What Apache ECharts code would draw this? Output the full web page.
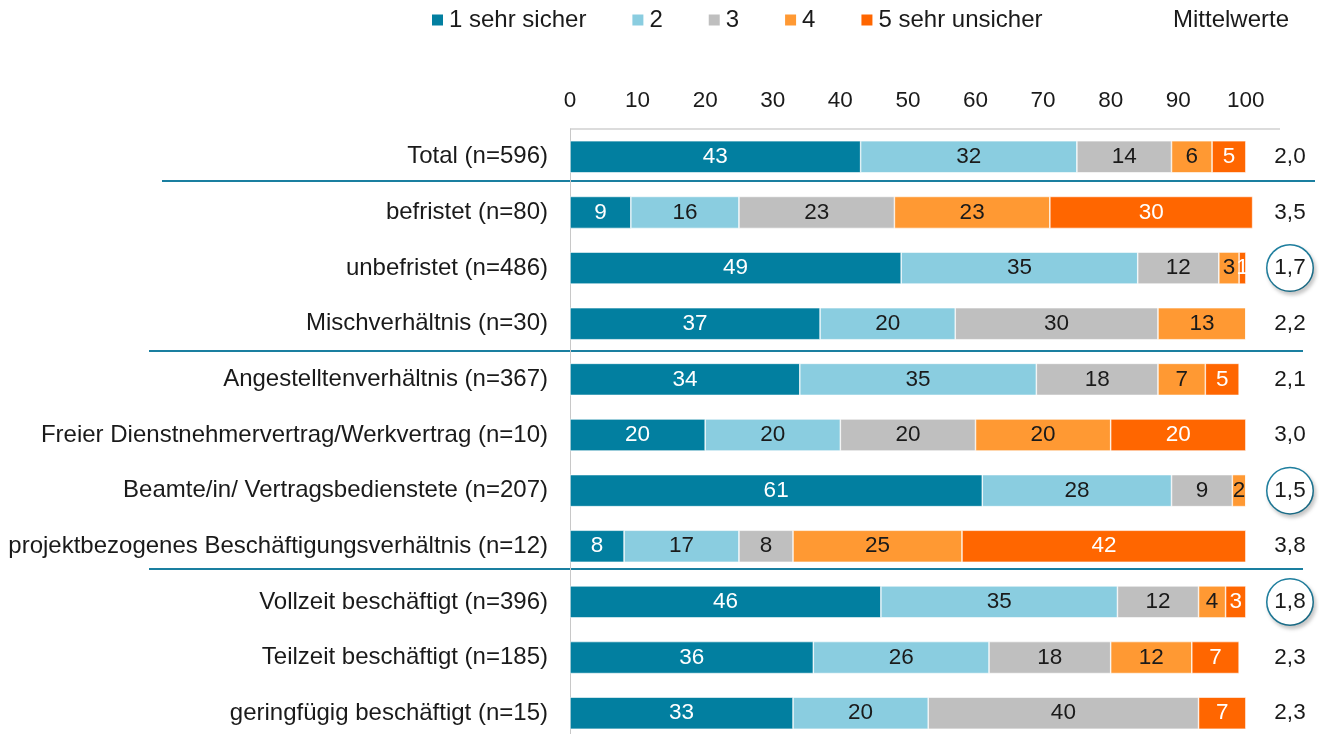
<!DOCTYPE html>
<html>
<head>
<meta charset="utf-8">
<script src="https://cdn.jsdelivr.net/npm/echarts@6/dist/echarts.min.js"></script>
<style>
  html, body { margin: 0; padding: 0; background: #fff; }
  #chart { width: 1319px; height: 734px; }
</style>
</head>
<body>
<div id="chart"></div>
<script>
// Kategorien (von oben nach unten)
var categories = [
  'Total (n=596)',
  'befristet (n=80)',
  'unbefristet (n=486)',
  'Mischverhältnis (n=30)',
  'Angestelltenverhältnis (n=367)',
  'Freier Dienstnehmervertrag/Werkvertrag (n=10)',
  'Beamte/in/ Vertragsbedienstete (n=207)',
  'projektbezogenes Beschäftigungsverhältnis (n=12)',
  'Vollzeit beschäftigt (n=396)',
  'Teilzeit beschäftigt (n=185)',
  'geringfügig beschäftigt (n=15)'
];
var seriesNames = ['1 sehr sicher', '2', '3', '4', '5 sehr unsicher'];
var s1 = [43, 9, 49, 37, 34, 20, 61, 8, 46, 36, 33];
var s2 = [32, 16, 35, 20, 35, 20, 28, 17, 35, 26, 20];
var s3 = [14, 23, 12, 30, 18, 20, 9, 8, 12, 18, 40];
var s4 = [6, 23, 3, 13, 7, 20, 2, 25, 4, 12, 0];
var s5 = [5, 30, 1, 0, 5, 20, 0, 42, 3, 7, 7];
var means = ['2,0', '3,5', '1,7', '2,2', '2,1', '3,0', '1,5', '3,8', '1,8', '2,3', '2,3'];
var circled = ['1,7', '1,5', '1,8'];
// Trennlinien nach diesen Zeilen
var separatorsAfter = [0, 3, 7];

var colors = ['#027FA0', '#8ACDE0', '#BFBFBF', '#FF9933', '#FF6600'];
var labelColors = ['#fff', '#1a1a1a', '#1a1a1a', '#1a1a1a', '#fff'];
var FONT = '"Liberation Sans", Arial, sans-serif';

var chart = echarts.init(document.getElementById('chart'));

var series = [s1, s2, s3, s4, s5].map(function (d, i) {
  return {
    name: seriesNames[i],
    type: 'bar',
    stack: 'total',
    barWidth: 32,
    data: d,
    itemStyle: { color: colors[i], borderColor: '#fff', borderWidth: 0.6 },
    label: {
      show: true,
      position: 'inside',
      color: labelColors[i],
      fontSize: 22.5,
      fontFamily: FONT,
      formatter: function (p) { return p.value ? p.value : ''; }
    },
    emphasis: { disabled: true }
  };
});

chart.setOption({
  animation: false,
  textStyle: { fontFamily: FONT },
  title: {
    text: 'Mittelwerte',
    left: 1173,
    top: 8,
    padding: 0,
    textStyle: { fontSize: 24, fontWeight: 'normal', color: '#1a1a1a', fontFamily: FONT }
  },
  legend: {
    left: 430,
    top: 8,
    padding: 0,
    itemWidth: 13,
    itemHeight: 13,
    itemGap: 44,
    icon: 'rect',
    textStyle: { fontSize: 24, color: '#1a1a1a', fontFamily: FONT },
    data: seriesNames
  },
  grid: { left: 570, right: 63, top: 129, height: 612, outerBoundsMode: 'none', containLabel: false },
  xAxis: {
    type: 'value',
    position: 'top',
    min: 0,
    max: 101.5,
    interval: 10,
    axisLine: { show: false },
    axisTick: { show: false },
    splitLine: { show: false },
    axisLabel: {
      fontSize: 22.5,
      color: '#1a1a1a',
      margin: 17,
      showMaxLabel: false,
      formatter: function (v) { return v % 10 === 0 && v <= 100 ? v : ''; }
    }
  },
  yAxis: [{
    type: 'category',
    inverse: true,
    data: categories,
    axisLine: { show: true, lineStyle: { color: '#C8C8C8', width: 1 } },
    axisTick: { show: false },
    axisLabel: { fontSize: 24, color: '#1a1a1a', margin: 22 }
  }, {
    type: 'category',
    inverse: true,
    position: 'right',
    data: means,
    axisLine: { show: false },
    axisTick: { show: false },
    axisLabel: {
      margin: 34,
      align: 'center',
      formatter: function (v) {
        return circled.indexOf(v) >= 0 ? '{c|' + v + '}' : '{n|' + v + '}';
      },
      rich: {
        n: { fontSize: 22.5, color: '#1a1a1a', width: 46, align: 'center', fontFamily: FONT },
        c: {
          fontSize: 22.5, color: '#1a1a1a', fontFamily: FONT,
          width: 45, height: 45, lineHeight: 45, align: 'center',
          borderRadius: 24, borderColor: '#1F7F9F', borderWidth: 1.5,
          backgroundColor: '#fff',
          shadowBlur: 4, shadowColor: 'rgba(0,0,0,0.2)', shadowOffsetX: 2, shadowOffsetY: 3
        }
      }
    }
  }],
  series: series
});

// Rahmenlinie oben und Trennlinien zwischen den Gruppen
var gridLeft = chart.convertToPixel({ xAxisIndex: 0 }, 0);
var gridTop = 129;
var elements = [{
  type: 'line',
  shape: { x1: gridLeft, y1: gridTop, x2: 1280, y2: gridTop },
  style: { stroke: '#D0D0D0', lineWidth: 1.5 }
}];
var sepX = [[162, 1315], [149, 1303], [149, 1303]];
var sepFrac = [0.435, 0.49, 0.4];
separatorsAfter.forEach(function (idx, k) {
  var yA = chart.convertToPixel({ yAxisIndex: 0 }, idx);
  var yB = chart.convertToPixel({ yAxisIndex: 0 }, idx + 1);
  var y = Math.round(yA + (yB - yA) * sepFrac[k]);
  elements.push({
    type: 'line',
    shape: { x1: sepX[k][0], y1: y, x2: sepX[k][1], y2: y },
    style: { stroke: '#1A7FA0', lineWidth: 2 }
  });
});
chart.setOption({ graphic: { elements: elements } });
</script>
</body>
</html>
